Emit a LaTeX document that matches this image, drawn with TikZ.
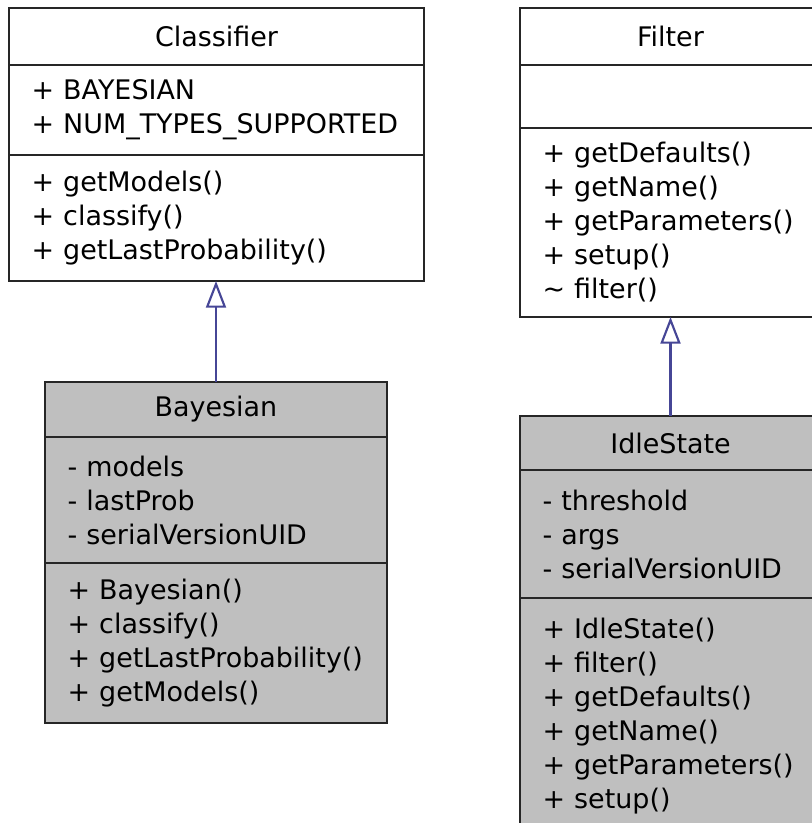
\documentclass[tikz,border=0pt]{standalone}
\usepackage{fontspec}
\setmainfont{DejaVu Sans}
\usetikzlibrary{positioning,arrows.meta}
\definecolor{edgeblue}{RGB}{70,70,150}
\definecolor{subfill}{RGB}{191,191,191}

\begin{document}
\begin{tikzpicture}[x=0.75pt,y=-0.75pt,line join=miter,
  part/.style={draw=black!85,line width=1.5pt,outer sep=0pt,inner xsep=17pt,inner ysep=0pt,
    align=left,font=\fontsize{20.2}{25.5}\selectfont},
  head/.style={part,align=center},
  base/.style={fill=white},
  derived/.style={fill=subfill},
  inherit/.style={draw=edgeblue,line width=1.6pt,-{Triangle[open,length=20pt,width=15pt]}}]
  \useasboundingbox (0,0) rectangle (812,823);
  \clip (0,0) rectangle (812,823);

  % Classifier
  \node[head,base,text width=277.25pt,minimum height=42.75pt,anchor=north west] (clsname) at (9,8) {Classifier};
  \node[part,base,text width=277.25pt,minimum height=67.5pt,below=0pt of clsname] (clsattr)
    {+ BAYESIAN\\+ NUM\_TYPES\_SUPPORTED};
  \node[part,base,text width=277.25pt,minimum height=94.5pt,below=0pt of clsattr] (clsmeth)
    {+ getModels()\\+ classify()\\+ getLastProbability()};

  % Bayesian
  \node[head,derived,text width=222.5pt,minimum height=41.25pt,anchor=north west] (bayname) at (45,382) {Bayesian};
  \node[part,derived,text width=222.5pt,minimum height=94.5pt,below=0pt of bayname] (bayattr)
    {- models\\- lastProb\\- serialVersionUID};
  \node[part,derived,text width=222.5pt,minimum height=120pt,below=0pt of bayattr] (baymeth)
    {+ Bayesian()\\+ classify()\\+ getLastProbability()\\+ getModels()};

  % Filter
  \node[head,base,text width=191.75pt,minimum height=42.75pt,anchor=north west] (filname) at (520,8) {Filter};
  \node[part,base,text width=191.75pt,minimum height=47.25pt,below=0pt of filname] (filattr) {};
  \node[part,base,text width=191.75pt,minimum height=141.75pt,below=0pt of filattr] (filmeth)
    {+ getDefaults()\\+ getName()\\+ getParameters()\\+ setup()\\\textasciitilde{} filter()};

  % IdleState
  \node[head,derived,text width=191.75pt,minimum height=40.5pt,anchor=north west] (idlname) at (520,416) {IdleState};
  \node[part,derived,text width=191.75pt,minimum height=96pt,below=0pt of idlname] (idlattr)
    {- threshold\\- args\\- serialVersionUID};
  \node[part,derived,text width=191.75pt,minimum height=177pt,below=0pt of idlattr] (idlmeth)
    {+ IdleState()\\+ filter()\\+ getDefaults()\\+ getName()\\+ getParameters()\\+ setup()};

  \draw[inherit] (bayname.north) -- (bayname.north |- clsmeth.south);
  \draw[inherit] (idlname.north) -- (idlname.north |- filmeth.south);
\end{tikzpicture}
\end{document}
